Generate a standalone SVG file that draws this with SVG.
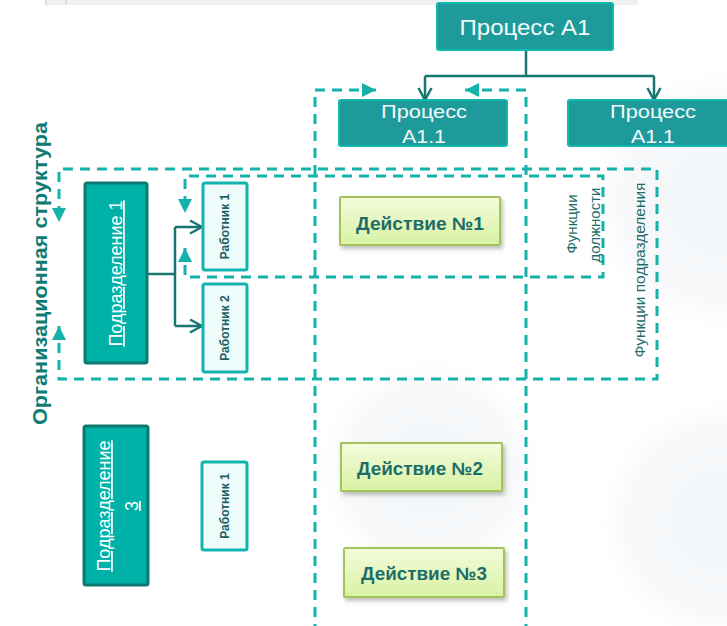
<svg xmlns="http://www.w3.org/2000/svg" width="727" height="626" viewBox="0 0 727 626">
<defs>
<style>
.proc rect{fill:#1f9a9a;stroke:#12b8b0;stroke-width:2}
.proc text{fill:#f2fbfb;font-family:"Liberation Sans",Arial,sans-serif;text-anchor:middle}
.dept rect{fill:#00b1a8;stroke:#0e7770;stroke-width:3}
.dept text{fill:#ffffff;font-family:"Liberation Sans",Arial,sans-serif;font-size:18px;text-anchor:middle;text-decoration:underline}
.wrk rect{fill:#effcfc;stroke:#12b5ad;stroke-width:3}
.wrk text{fill:#1c5f5c;font-family:"Liberation Sans",Arial,sans-serif;font-size:12px;font-weight:bold;text-anchor:middle}
.act rect{fill:url(#gg);stroke:#a2c25a;stroke-width:2;filter:url(#sh)}
.act text{fill:#1c6d69;font-family:"Liberation Sans",Arial,sans-serif;font-size:18px;font-weight:bold;text-anchor:middle}
.dash{fill:none;stroke:#14b2aa;stroke-width:3;stroke-dasharray:10 7}
.solid{fill:none;stroke:#17766f;stroke-width:2.5}
.lbl{fill:#1d6e6a;font-family:"Liberation Sans",Arial,sans-serif;font-size:15px;text-anchor:middle}
.title{fill:#0e7c72;font-family:"Liberation Sans",Arial,sans-serif;font-size:21px;font-weight:bold;text-anchor:middle}
</style>
<linearGradient id="gg" x1="0" y1="0" x2="0" y2="1">
<stop offset="0" stop-color="#f4fbdc"/>
<stop offset="1" stop-color="#d8f2a2"/>
</linearGradient>
<filter id="sh" x="-10%" y="-20%" width="125%" height="150%">
<feDropShadow dx="2" dy="3" stdDeviation="2" flood-color="#000" flood-opacity="0.25"/>
</filter>
<radialGradient id="bgc">
<stop offset="0" stop-color="#f3f6f8"/>
<stop offset="0.7" stop-color="#f6f8fa"/>
<stop offset="1" stop-color="#ffffff" stop-opacity="0"/>
</radialGradient>
<marker id="tri" markerUnits="userSpaceOnUse" markerWidth="14" markerHeight="14" viewBox="0 0 12 12" refX="12" refY="6" orient="auto-start-reverse">
<path d="M0,0 L12,6 L0,12 Z" fill="#14b2aa"/>
</marker>
<marker id="vee" markerUnits="userSpaceOnUse" markerWidth="16" markerHeight="16" viewBox="0 0 16 16" refX="14" refY="8" orient="auto">
<path d="M2,1.5 L14,8 L2,14.5" fill="none" stroke="#17766f" stroke-width="2.5"/>
</marker>
</defs>

<g id="background">
<rect x="0" y="0" width="727" height="626" fill="#ffffff"/>
<circle cx="720" cy="200" r="140" fill="url(#bgc)"/>
<circle cx="430" cy="470" r="120" fill="url(#bgc)"/>
<circle cx="720" cy="520" r="130" fill="url(#bgc)"/>
<rect x="45" y="0" width="593" height="5" fill="#eff1f0"/>
<line x1="46" y1="0" x2="46" y2="5" stroke="#c9cccc" stroke-width="1"/>
<line x1="66" y1="0" x2="66" y2="5" stroke="#c9cccc" stroke-width="1"/>
</g>

<g id="connectors">
<path class="dash" d="M376,90 H315 V626" marker-start="url(#tri)"/>
<path class="dash" d="M465,90 H526 V626" marker-start="url(#tri)"/>
<path class="dash" d="M59,326 V379 H657 V169 H59 V222" marker-start="url(#tri)" marker-end="url(#tri)"/>
<path class="dash" d="M185,248 V277 H603 V176 H185 V213" marker-start="url(#tri)" marker-end="url(#tri)"/>
<path class="solid" d="M526,50 V76"/>
<path class="solid" d="M425,76 H654"/>
<path class="solid" d="M425,76 V100" marker-end="url(#vee)"/>
<path class="solid" d="M654,76 V100" marker-end="url(#vee)"/>
<path class="solid" d="M147,274 H175"/>
<path class="solid" d="M175,227 V326"/>
<path class="solid" d="M175,227 H202" marker-end="url(#vee)"/>
<path class="solid" d="M175,326 H202" marker-end="url(#vee)"/>
</g>

<g id="process-a1" class="proc">
<rect x="437" y="3" width="176" height="47" rx="2"/>
<text x="525" y="35" font-size="22" textLength="131" lengthAdjust="spacingAndGlyphs">Процесс А1</text>
</g>
<g id="process-a11-left" class="proc">
<rect x="339" y="100" width="168" height="46" rx="2"/>
<text x="424" y="118" font-size="19" textLength="86" lengthAdjust="spacingAndGlyphs">Процесс</text>
<text x="424" y="143" font-size="19" textLength="44" lengthAdjust="spacingAndGlyphs">А1.1</text>
</g>
<g id="process-a11-right" class="proc">
<rect x="568" y="100" width="170" height="46" rx="2"/>
<text x="653" y="118" font-size="19" textLength="86" lengthAdjust="spacingAndGlyphs">Процесс</text>
<text x="653" y="143" font-size="19" textLength="44" lengthAdjust="spacingAndGlyphs">А1.1</text>
</g>

<g id="title">
<text class="title" transform="translate(47,273.5) rotate(-90)" textLength="303" lengthAdjust="spacingAndGlyphs">Организационная структура</text>
</g>

<g id="dept-1" class="dept">
<rect x="85" y="183" width="62" height="180" rx="2"/>
<text transform="translate(122,273.5) rotate(-90)">Подразделение 1</text>
</g>
<g id="worker-1" class="wrk">
<rect x="203" y="183" width="44" height="87" rx="2"/>
<text transform="translate(229,226.5) rotate(-90)">Работник 1</text>
</g>
<g id="worker-2" class="wrk">
<rect x="203" y="284" width="44" height="88" rx="2"/>
<text transform="translate(229,328) rotate(-90)">Работник 2</text>
</g>

<g id="dept-3" class="dept">
<rect x="84" y="426" width="64" height="159" rx="2"/>
<text transform="translate(110,506) rotate(-90)">Подразделение</text>
<text transform="translate(138,506) rotate(-90)">3</text>
</g>
<g id="worker-3" class="wrk">
<rect x="202" y="462" width="45" height="88" rx="2"/>
<text transform="translate(229,506) rotate(-90)">Работник 1</text>
</g>

<g id="action-1" class="act">
<rect x="340" y="197" width="160" height="48" rx="1"/>
<text x="420" y="230" textLength="128" lengthAdjust="spacingAndGlyphs">Действие №1</text>
</g>
<g id="action-2" class="act">
<rect x="341" y="443" width="161" height="48" rx="1"/>
<text x="420" y="475" textLength="126" lengthAdjust="spacingAndGlyphs">Действие №2</text>
</g>
<g id="action-3" class="act">
<rect x="344" y="548" width="160" height="49" rx="1"/>
<text x="424" y="580" textLength="126" lengthAdjust="spacingAndGlyphs">Действие №3</text>
</g>

<g id="label-position-functions">
<text class="lbl" transform="translate(577,224) rotate(-90)">Функции</text>
<text class="lbl" transform="translate(600,225) rotate(-90)">должности</text>
</g>
<g id="label-dept-functions">
<text class="lbl" transform="translate(645,270) rotate(-90)" textLength="175" lengthAdjust="spacingAndGlyphs">Функции подразделения</text>
</g>
</svg>
